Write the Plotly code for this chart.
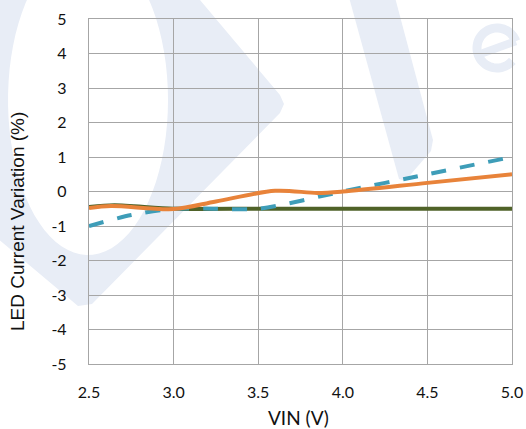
import numpy as np
import plotly.graph_objects as go

# ---- data ----
x_green = [2.5, 2.65, 3.0, 3.5, 4.0, 4.5, 5.0]
y_green = [-0.45, -0.40, -0.5, -0.5, -0.5, -0.5, -0.5]

x_blue = [2.5, 2.75, 3.0, 3.25, 3.5, 4.0, 4.5, 5.0]
y_blue = [-1.0, -0.68, -0.5, -0.5, -0.5, 0.0, 0.5, 1.0]

x_orange = [2.5, 2.63, 3.0, 3.25, 3.6, 3.85, 4.0, 4.5, 5.0]
y_orange = [-0.48, -0.42, -0.51, -0.29, 0.02, -0.04, 0.0, 0.25, 0.5]

x_ticks = [2.5, 3.0, 3.5, 4.0, 4.5, 5.0]
x_tick_labels = ["2.5", "3.0", "3.5", "4.0", "4.5", "5.0"]
y_ticks = [-5, -4, -3, -2, -1, 0, 1, 2, 3, 4, 5]
y_tick_labels = ["-5", "-4", "-3", "-2", "-1", "0", "1", "2", "3", "4", "5"]

x_title = "VIN (V)"
y_title = "LED Current Variation (%)"

# ---- layout geometry (pixels) ----
W, H = 526, 429
L, R, T, B = 89, 512, 19, 364
PW, PH = R - L, B - T

def px(x):
    return (x - L) / PW

def py(y):
    return (B - y) / PH

def path_from(points, close=True):
    s = "M " + " L ".join(f"{px(a):.4f},{py(b):.4f}" for a, b in points)
    return s + (" Z" if close else "")

wm = "#E8EDF6"
shapes = []

# watermark: large rounded shape with elliptical hole
poly = [(-60, -60), (200, -60), (200, 0), (280, 95), (284, 104), (280, 113),
        (92, 304), (78, 306), (-60, 190)]
t = np.linspace(0, -2 * np.pi, 80)
cx, cy, a, b = 88, 100, 80, 155
ell = list(zip(cx + a * np.cos(t), cy + b * np.sin(t)))
shapes.append(dict(type="path", xref="paper", yref="paper", layer="below",
                   path=path_from(poly) + " " + path_from(ell),
                   fillcolor=wm, line=dict(width=0)))
# watermark: diagonal band
band = [(347, -10), (393, -10), (433, 140), (431, 151), (405, 181), (399, 179)]
shapes.append(dict(type="path", xref="paper", yref="paper", layer="below",
                   path=path_from(band), fillcolor=wm, line=dict(width=0)))
# watermark: "e"
ecx, ecy, er = 497, 48, 20
th = np.deg2rad(np.linspace(-20, -320, 60))
earc = list(zip(ecx + er * np.cos(th), ecy + er * np.sin(th)))
shapes.append(dict(type="path", xref="paper", yref="paper", layer="below",
                   path=path_from(earc, close=False),
                   line=dict(color=wm, width=9)))
bar = [(ecx + er * np.cos(np.deg2rad(160)), ecy + er * np.sin(np.deg2rad(160))),
       (ecx + er * np.cos(np.deg2rad(-20)), ecy + er * np.sin(np.deg2rad(-20)))]
shapes.append(dict(type="path", xref="paper", yref="paper", layer="below",
                   path=path_from(bar, close=False),
                   line=dict(color=wm, width=8)))

fig = go.Figure()
fig.add_trace(go.Scatter(x=x_green, y=y_green, mode="lines",
                         line=dict(color="#4F6228", width=4, shape="spline", smoothing=0.8),
                         showlegend=False))
fig.add_trace(go.Scatter(x=x_blue, y=y_blue, mode="lines",
                         line=dict(color="#3E9DB8", width=4, dash="15px,14px",
                                   shape="spline", smoothing=0.8),
                         showlegend=False))
fig.add_trace(go.Scatter(x=x_orange, y=y_orange, mode="lines",
                         line=dict(color="#E8833A", width=4, shape="spline", smoothing=0.9),
                         showlegend=False))

grid = "#A6A6A6"
fig.update_layout(
    width=W, height=H, autosize=False,
    margin=dict(l=L, r=W - R, t=T, b=H - B, pad=0, autoexpand=False),
    paper_bgcolor="white", plot_bgcolor="rgba(0,0,0,0)",
    shapes=shapes,
    font=dict(family="Lato", size=16, color="#111111"),
    xaxis=dict(range=[2.5, 5.0], tickvals=x_ticks, ticktext=x_tick_labels,
               automargin=False,
               showgrid=True, gridcolor=grid, gridwidth=1.3,
               showline=True, linecolor=grid, linewidth=1.3, mirror=True,
               zeroline=False, ticks="", ticklabelstandoff=14,
               tickfont=dict(family="Lato", size=16)),
    yaxis=dict(range=[-5, 5], tickvals=y_ticks, ticktext=y_tick_labels,
               automargin=False,
               showgrid=True, gridcolor=grid, gridwidth=1.3,
               showline=True, linecolor=grid, linewidth=1.3, mirror=True,
               zeroline=False, ticks="", ticklabelstandoff=18,
               tickfont=dict(family="Lato", size=16)),
    annotations=[
        dict(text=x_title, xref="paper", yref="paper", x=px(298), y=py(417),
             xanchor="center", yanchor="middle", showarrow=False,
             font=dict(family="Lato", size=19, color="#111111")),
        dict(text=y_title, xref="paper", yref="paper", x=px(17), y=py(222),
             xanchor="center", yanchor="middle", textangle=-90, showarrow=False,
             font=dict(family="Liberation Sans", size=19, color="#111111")),
    ],
)

fig.write_html("out.html",
               config={"displayModeBar": False, "responsive": False},
               post_script="document.body.style.margin='0';"
                           "document.body.style.padding='0';"
                           "document.body.style.overflow='hidden';")
